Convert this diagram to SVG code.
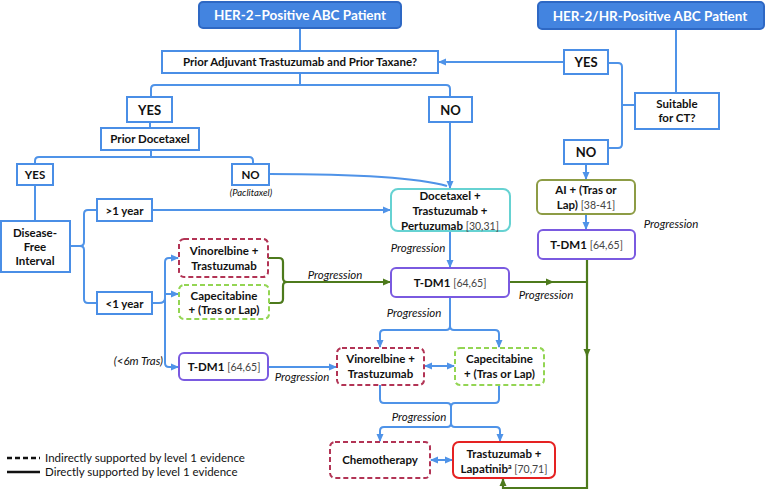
<svg xmlns="http://www.w3.org/2000/svg" width="766" height="494" viewBox="0 0 766 494">
<defs>
<marker id="ab" markerUnits="userSpaceOnUse" markerWidth="8" markerHeight="8" refX="7" refY="4" orient="auto-start-reverse"><path d="M0,0.5 L8,4 L0,7.5 z" fill="#4f93e8"/></marker>
<marker id="ag" markerUnits="userSpaceOnUse" markerWidth="8" markerHeight="8" refX="7" refY="4" orient="auto-start-reverse"><path d="M0,0.5 L8,4 L0,7.5 z" fill="#4d7a1c"/></marker>
<style>
.box{fill:#fff;stroke:#4a8ee6;stroke-width:2}
.hdr{fill:#4384e0;stroke:#2e68c4;stroke-width:2}
.c{fill:none;stroke:#4f93e8;stroke-width:2}
.g{fill:none;stroke:#4d7a1c;stroke-width:2.2}
.teal{fill:#fff;stroke:#66d2d2;stroke-width:2}
.pur{fill:#fff;stroke:#7a5ae0;stroke-width:2}
.olv{fill:#fff;stroke:#8d9c45;stroke-width:2}
.red{fill:#fff;stroke:#e52222;stroke-width:2}
.dcr{fill:#fff;stroke:#b23455;stroke-width:2;stroke-dasharray:5,3}
.dgr{fill:#fff;stroke:#93d553;stroke-width:2;stroke-dasharray:5,3}
text{font-family:Lato,"Liberation Sans",sans-serif;fill:#111}
.t{font-weight:bold;font-size:11.5px;text-anchor:middle}
.w{fill:#fff;font-size:13.5px}
.r{font-weight:normal;fill:#444;font-size:10.5px}
.it{font-style:italic;font-size:11.5px;text-anchor:middle}
.lg{font-size:11.5px}
</style>
</defs>

<g id="connectors">
<path class="c" d="M300,28 V51"/>
<path class="c" d="M300,73 V85 M151,97 V89 Q151,85 155,85 H446 Q450,85 450,89 V97"/>
<path class="c" d="M150,122 V128"/>
<path class="c" d="M151,150 V157 M35,164 V161 Q35,157 39,157 H249 Q253,157 253,161 V164"/>
<path class="c" d="M35,185 V221"/>
<path class="c" d="M450,122 V188" marker-end="url(#ab)"/>
<path class="c" d="M269,174 Q405,174 447,186"/>
<path class="c" d="M70,246 H80 Q84,246 84,242 V214 Q84,210 88,210 H97 M80,246 Q84,246 84,250 V299 Q84,303 88,303 H97"/>
<path class="c" d="M152,210 H390" marker-end="url(#ab)"/>
<path class="c" d="M152,303 H159 Q165,303 165,298"/>
<path class="c" d="M165,300 V262 Q165,258 169,258 H178" marker-end="url(#ab)"/>
<path class="c" d="M165,294 H178" marker-end="url(#ab)"/>
<path class="c" d="M165,290 V363 Q165,367 169,367 H178" marker-end="url(#ab)"/>
<path class="c" d="M268,367 H336" marker-end="url(#ab)"/>
<path class="c" d="M450,231 V267" marker-end="url(#ab)"/>
<path class="c" d="M450,297 V326 Q450,330 446,330 H384 Q380,330 380,334 V347" marker-end="url(#ab)"/>
<path class="c" d="M450,326 Q450,330 454,330 H495 Q499,330 499,334 V347" marker-end="url(#ab)"/>
<path class="c" d="M425,366 H454" marker-start="url(#ab)" marker-end="url(#ab)"/>
<path class="c" d="M380,385 V399 Q380,403 384,403 H447 Q451,403 451,407 V423 Q451,427 447,427 H384 Q380,427 380,431 V441" marker-end="url(#ab)"/>
<path class="c" d="M499,385 V399 Q499,403 495,403 H455 Q451,403 451,407 V423 Q451,427 455,427 H496 Q500,427 500,431 V441" marker-end="url(#ab)"/>
<path class="c" d="M431,460 H452" marker-start="url(#ab)" marker-end="url(#ab)"/>
<path class="c" d="M676,29 V93"/>
<path class="c" d="M564,62 H439" marker-end="url(#ab)"/>
<path class="c" d="M608,63 H618 Q622,63 622,67 V144 Q622,148 618,148 H608 M622,105 H635"/>
<path class="c" d="M586,164 V179" marker-end="url(#ab)"/>
<path class="c" d="M586,214 V229" marker-end="url(#ab)"/>
<path class="g" d="M268,258 H279 Q283,258 283,262 V278 Q283,282 287,282 H390" marker-end="url(#ag)"/>
<path class="g" d="M269,303 H279 Q283,303 283,299 V286 Q283,282 287,282"/>
<path class="g" d="M509,282 H553" marker-end="url(#ag)"/>
<path class="g" d="M552,282 H587"/>
<path class="g" d="M587,259 V356" marker-end="url(#ag)"/>
<path class="g" d="M587,354 V488 H503 V479" marker-end="url(#ag)"/>
</g>

<g id="hdr1"><rect class="hdr" x="199" y="2" width="202" height="26" rx="4"/><text class="t w" x="300" y="20">HER-2–Positive ABC Patient</text></g>
<g id="hdr2"><rect class="hdr" x="538" y="2" width="226" height="27" rx="4"/><text class="t w" x="650" y="20.5">HER-2/HR-Positive ABC Patient</text></g>
<g id="q1"><rect class="box" x="162" y="51" width="276" height="22"/><text class="t" x="300" y="66">Prior Adjuvant Trastuzumab and Prior Taxane?</text></g>
<g id="yes1"><rect class="box" x="127" y="97" width="45" height="25"/><text class="t" x="149.5" y="114.5" style="font-size:13px">YES</text></g>
<g id="no1"><rect class="box" x="429" y="97" width="43" height="25"/><text class="t" x="450.5" y="114.5" style="font-size:13px">NO</text></g>
<g id="pd"><rect class="box" x="101" y="128" width="98" height="22"/><text class="t" x="150" y="143">Prior Docetaxel</text></g>
<g id="yes2"><rect class="box" x="17" y="164" width="36" height="21"/><text class="t" x="35" y="179">YES</text></g>
<g id="no2"><rect class="box" x="232" y="164" width="37" height="21"/><text class="t" x="250.5" y="179">NO</text><text class="it" x="251" y="196" style="font-size:9.5px">(Paclitaxel)</text></g>
<g id="dfi"><rect class="box" x="1" y="221" width="69" height="51"/><text class="t" x="35" y="237">Disease-</text><text class="t" x="35" y="251">Free</text><text class="t" x="35" y="265">Interval</text></g>
<g id="gt1"><rect class="box" x="97" y="199" width="55" height="22"/><text class="t" x="124.5" y="214.5">&gt;1 year</text></g>
<g id="lt1"><rect class="box" x="97" y="292" width="55" height="22"/><text class="t" x="124.5" y="307.5">&lt;1 year</text></g>
<g id="dtp"><rect class="teal" x="391" y="189" width="119" height="42" rx="7"/><text class="t" x="450" y="200">Docetaxel +</text><text class="t" x="450" y="215">Trastuzumab +</text><text class="t" x="450" y="229.5">Pertuzumab <tspan class="r">[30,31]</tspan></text></g>
<g id="vt1"><rect class="dcr" x="179" y="239" width="89" height="38" rx="5"/><text class="t" x="224" y="255">Vinorelbine +</text><text class="t" x="224" y="270">Trastuzumab</text></g>
<g id="cap1"><rect class="dgr" x="179" y="285" width="90" height="34" rx="5"/><text class="t" x="224" y="299.5">Capecitabine</text><text class="t" x="224" y="314">+ (Tras or Lap)</text></g>
<g id="tdm1c"><rect class="pur" x="391" y="268" width="118" height="29" rx="5"/><text class="t" x="450" y="287">T-DM1 <tspan class="r">[64,65]</tspan></text></g>
<g id="tdm1l"><rect class="pur" x="179" y="353" width="89" height="27" rx="5"/><text class="t" x="224" y="371">T-DM1 <tspan class="r">[64,65]</tspan></text></g>
<g id="vt2"><rect class="dcr" x="337" y="348" width="87" height="37" rx="5"/><text class="t" x="380.5" y="363">Vinorelbine +</text><text class="t" x="380.5" y="378">Trastuzumab</text></g>
<g id="cap2"><rect class="dgr" x="455" y="348" width="89" height="37" rx="5"/><text class="t" x="499.5" y="363">Capecitabine</text><text class="t" x="499.5" y="378">+ (Tras or Lap)</text></g>
<g id="chemo"><rect class="dcr" x="330" y="442" width="100" height="36" rx="5"/><text class="t" x="380" y="464">Chemotherapy</text></g>
<g id="tl"><rect class="red" x="453" y="442" width="102" height="36" rx="6"/><text class="t" x="504" y="458">Trastuzumab +</text><text class="t" x="504" y="473">Lapatinib<tspan style="font-size:7px" dy="-4">a</tspan><tspan class="r" dy="4"> [70,71]</tspan></text></g>
<g id="suit"><rect class="box" x="635" y="93" width="84" height="36"/><text class="t" x="677" y="108">Suitable</text><text class="t" x="677" y="122">for CT?</text></g>
<g id="yes3"><rect class="box" x="564" y="50" width="44" height="24"/><text class="t" x="586" y="66.5" style="font-size:13px">YES</text></g>
<g id="no3"><rect class="box" x="564" y="140" width="44" height="24"/><text class="t" x="586" y="156.5" style="font-size:13px">NO</text></g>
<g id="ai"><rect class="olv" x="537" y="180" width="98" height="34" rx="5"/><text class="t" x="586" y="194">AI + (Tras or</text><text class="t" x="586" y="209">Lap) <tspan class="r">[38-41]</tspan></text></g>
<g id="tdm1r"><rect class="pur" x="538" y="230" width="97" height="29" rx="5"/><text class="t" x="586.5" y="249">T-DM1 <tspan class="r">[64,65]</tspan></text></g>

<g id="labels">
<text class="it" x="335" y="279">Progression</text>
<text class="it" x="418" y="252">Progression</text>
<text class="it" x="546" y="299">Progression</text>
<text class="it" x="671" y="228">Progression</text>
<text class="it" x="414" y="317">Progression</text>
<text class="it" x="302" y="381">Progression</text>
<text class="it" x="419" y="421">Progression</text>
<text class="it" x="163" y="365" style="text-anchor:end">(&lt;6m Tras)</text>
</g>

<g id="legend">
<path d="M7,458 H40" stroke="#111" stroke-width="2.5" stroke-dasharray="5,3" fill="none"/>
<text class="lg" x="45" y="462">Indirectly supported by level 1 evidence</text>
<path d="M7,472 H40" stroke="#111" stroke-width="2.5" fill="none"/>
<text class="lg" x="45" y="476">Directly supported by level 1 evidence</text>
</g>
</svg>
